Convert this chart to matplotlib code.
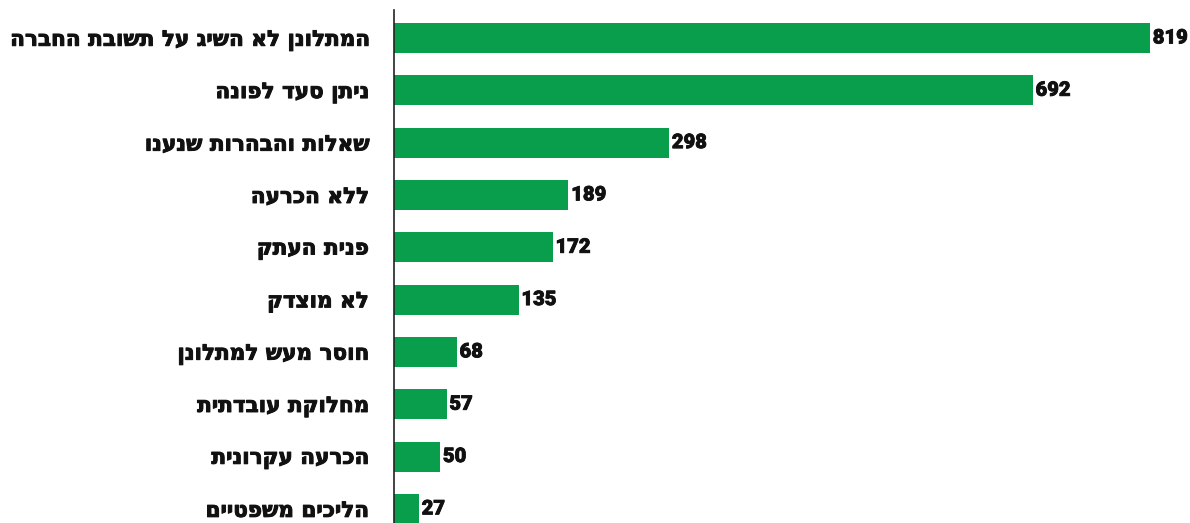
import matplotlib.pyplot as plt
import matplotlib.patheffects as pe

# נתונים
categories = [
    'המתלונן לא השיג על תשובת החברה',
    'ניתן סעד לפונה',
    'שאלות והבהרות שנענו',
    'ללא הכרעה',
    'פנית העתק',
    'לא מוצדק',
    'חוסר מעש למתלונן',
    'מחלוקת עובדתית',
    'הכרעה עקרונית',
    'הליכים משפטיים',
]
values = [819, 692, 298, 189, 172, 135, 68, 57, 50, 27]

green = '#089e4c'

# matplotlib לא מטפל בכיווניות RTL - הופכים את המחרוזות ידנית
def rtl(s):
    return s[::-1]

fig = plt.figure(figsize=(11.9, 5.23), dpi=100)
ax = fig.add_axes([394 / 1190, 0, (1190 - 394) / 1190, 513 / 523])

y = list(range(len(values)))
ax.barh(y, values, height=0.574, color=green)

ax.set_xlim(0, 819 * 796 / 756)
ax.set_ylim(9.27, -0.535)

ax.set_yticks(y)
labels = ax.set_yticklabels([rtl(c) for c in categories], fontsize=15.5,
                            fontweight='bold', family='DejaVu Sans', color='#111111')
for t in labels:
    t.set_path_effects([pe.withStroke(linewidth=0.7, foreground='#111111')])
ax.tick_params(axis='y', length=0, pad=18.5)
ax.set_xticks([])

for v, yi in zip(values, y):
    ax.text(v + 3, yi, str(v), va='center', ha='left',
            fontsize=14.5, fontweight=900, color='#111111',
            family=['Roboto', 'DejaVu Sans'],
            path_effects=[pe.withStroke(linewidth=0.6, foreground='#111111')])

for s in ['top', 'right', 'bottom']:
    ax.spines[s].set_visible(False)
ax.spines['left'].set_color('#222222')
ax.spines['left'].set_linewidth(1.2)

fig.savefig('out.png', dpi=100)
